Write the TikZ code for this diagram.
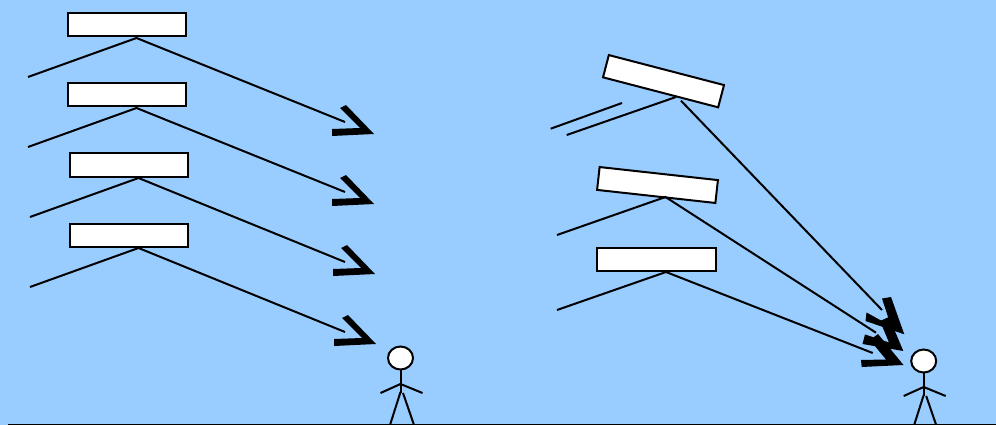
\documentclass[tikz,border=0pt]{standalone}
\usepackage{xcolor}
\usetikzlibrary{calc}
\definecolor{skyblue}{HTML}{99CCFF}
\tikzset{
    panel/.style={draw=black, fill=white, line width=2pt, inner sep=0pt, minimum width=118pt, minimum height=23pt},
    ray/.style={black, line width=2pt},
    limb/.style={black, line width=2pt},
    chevron/.pic={\fill[black] (0,0) -- (-28,-29) -- (-34,-26) -- (-14,-6) -- (-42,-5) -- (-42,2) -- cycle;},
    stickman/.pic={
        \draw[limb] (0,11) -- (0,35);
        \draw[limb] (-20,35) -- (0,26) -- (22,35);
        \draw[limb] (-10.5,67) -- (0,34);
        \draw[limb] (13.5,67) -- (2.5,35);
        \draw[limb, fill=white] (0,0) ellipse (12.5 and 11.5);
    }
}
\begin{document}
\begin{tikzpicture}[x=1pt, y=-1pt]
    % background
    \fill[skyblue] (0,0) rectangle (996,425);
    \useasboundingbox (0,0) rectangle (996,425);

    % ground
    \coordinate (gl) at (8,424.5);
    \coordinate (gr) at (996,424.5);
    \draw[black, line width=2pt] (gl) -- (gr);

    % left side: four flat panels
    \foreach \n/\x/\y/\ax/\ay/\lx/\ly/\rx/\ry in {
        1/127.3/25/136.5/38/28/77/345/122,
        2/127.3/95/136.5/108/28/147/345/192,
        3/129.3/165/138.5/178/30/217/345/262,
        4/129.3/235/138.5/248/30/287/345/332} {
        \node[panel] (flat\n) at (\x,\y) {};
        \coordinate (apex\n) at (\ax,\ay);
        \coordinate (left\n) at (\lx,\ly);
        \coordinate (right\n) at (\rx,\ry);
        \draw[ray] (left\n) -- (apex\n) -- (right\n);
    }

    % arrowheads on the left
    \foreach \x/\y in {374/134, 374/204, 375/274, 376/344} {
        \pic at (\x,\y) {chevron};
    }

    % right side: tilted panels
    \node[panel, rotate=-14.6, minimum width=119pt] (tilt1) at (663.5,81.2) {};
    \node[panel, rotate=-6.3, minimum width=119pt] (tilt2) at (657.5,185) {};
    \node[panel, minimum width=119pt] (tilt3) at (656,259.7) {};

    % rays of the tilted panels
    \coordinate (far) at (550.7,128.7);
    \coordinate (near) at (622,103);
    \draw[ray] (far) -- (near);
    \coordinate (lowa) at (566.7,135);
    \coordinate (topa) at (676,97);
    \draw[ray] (lowa) -- (topa);
    \coordinate (topb) at (681,100.7);
    \coordinate (enda) at (882,310);
    \draw[ray] (topb) -- (enda);

    \coordinate (lowc) at (557,235);
    \coordinate (apexc) at (665.5,197);
    \coordinate (endc) at (876,332.7);
    \draw[ray] (lowc) -- (apexc) -- (endc);

    \coordinate (lowd) at (557,310);
    \coordinate (apexd) at (666,272);
    \coordinate (endd) at (872.7,353);
    \draw[ray] (lowd) -- (apexd) -- (endd);

    % arrowheads on the right
    \fill[black] (904.3,334.3) -- (891,297) -- (882,298.5) -- (891,326) -- (866.5,312.5) -- (865.5,321) -- cycle;
    \fill[black] (903.3,351) -- (889,317) -- (880,321) -- (889,342.5) -- (865,334.5) -- (862.5,344) -- cycle;
    \fill[black] (903.5,365) -- (878,334) -- (870,340) -- (886,359.5) -- (861,360) -- (861.7,367) -- cycle;

    % observers
    \pic at (400.5,358) {stickman};
    \pic at (923.7,361) {stickman};
\end{tikzpicture}
\end{document}
